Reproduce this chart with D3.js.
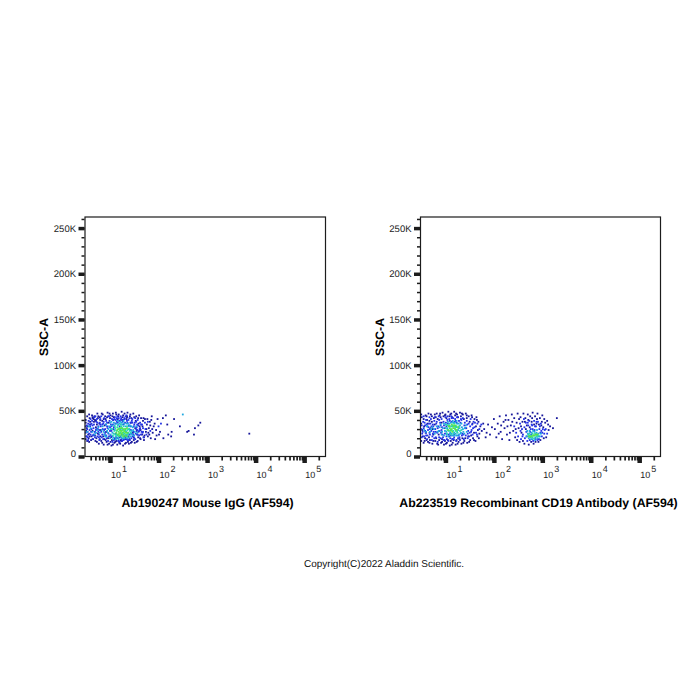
<!DOCTYPE html>
<html>
<head>
<meta charset="utf-8">
<script src="https://cdnjs.cloudflare.com/ajax/libs/d3/7.8.5/d3.min.js"></script>
<style>
html,body{margin:0;padding:0;background:#fff}
text{font-family:"Liberation Sans",Arial,sans-serif;text-rendering:geometricPrecision}
</style>
</head>
<body>
<svg id="chart" width="700" height="700"></svg>
<script>
// Events are [log10(AF594-A), SSC-A in thousands], grouped by local density tier.
const densityColors = ["#16169a", "#2333e6", "#1fa8e0", "#28d6b0", "#58e64a"];
const panelTitles = ["Ab190247 Mouse IgG (AF594)", "Ab223519 Recombinant CD19 Antibody (AF594)"];
const sscTicks = [0, 50, 100, 150, 200, 250];
const sscTickLabels = ["0", "50K", "100K", "150K", "200K", "250K"];
const decades = [1, 2, 3, 4, 5];
const copyrightText = "Copyright(C)2022 Aladdin Scientific.";

const igGNavy = [[0.52,31],[0.55,24],[0.5,37],[0.58,42],[0.61,18],[0.63,45],[0.69,40],[0.72,20],[0.74,47],[0.77,14],[0.79,43],[0.82,17],[0.85,46],[0.87,13],[0.9,44],[0.93,16],[0.95,48],[0.98,14],[1.01,45],[1.03,12],[1.06,47],[1.09,15],[1.12,48],[1.15,13],[1.18,46],[1.21,14],[1.24,49],[1.27,12],[1.3,47],[1.33,15],[1.36,48],[1.39,14],[1.42,46],[1.45,16],[1.48,47],[1.51,15],[1.54,44],[1.57,17],[1.6,45],[1.62,20],[1.64,42],[1.66,24],[1.68,39],[1.7,18],[1.72,41],[1.74,27],[1.76,35],[1.78,22],[1.8,31],[1.82,38],[1.84,20],[1.86,44],[1.88,26],[1.9,33],[1.93,19],[1.95,29],[1.98,41],[2.01,24],
[2.03,27],[2.09,42],[2.15,45],[2.32,41],[2.18,35],[2.27,27],[2.2,24],[2.26,22],[2.1,20],[2.44,33],[2.59,27],[2.62,28],[2.75,31],[2.73,24],[2.82,34],[2.86,37],[3.87,25],
[0.53,44],[0.56,20],[0.6,35],[0.64,28],[0.67,38],[0.71,32],[0.75,25],[0.78,36],[0.8,22],[0.84,39],[0.88,19],[0.91,41],[0.96,20],[1.0,42],[1.04,18],[1.08,43],[1.13,17],[1.17,44],[1.22,18],[1.26,43],[1.31,19],[1.35,44],[1.4,19],[1.44,42],[1.49,21],[1.53,39],[1.56,24],[1.59,36],[1.63,29],[1.67,33],[1.71,23],[1.75,30],[1.79,26],[1.83,34],[0.51,28],[0.54,33],[0.57,16],[0.62,22],[0.65,42],[0.7,17],[0.73,35],[0.76,44],[0.81,29],[0.86,22],[0.89,34],[0.92,27],[0.97,37],[1.02,21],[1.07,40],[1.11,19],[1.16,41],[1.2,21],[1.25,40],[1.29,22],[1.34,41],[1.38,22],[1.43,37],[1.47,26],[1.52,31],[1.55,28],[1.58,21],[1.61,33],
[0.57,46],[0.68,44],[0.83,47],[0.94,43],[1.05,44],[1.13,46],[1.27,45],[1.35,43],[1.41,44],[1.5,43],[1.58,42],[0.99,47],[0.75,42],[0.64,43],[0.5,40],[0.59,38],[0.66,41],[0.71,39],[0.8,40],[0.87,41],[1.69,42],[1.77,41],[1.85,40],[0.5,19],[0.53,17],[0.58,22],[0.65,19],[0.69,23],[0.73,16],[0.79,19],[0.84,15],[0.91,18],[0.95,13],[1.01,16],[1.06,13],[1.11,16],[1.19,15],[1.24,17],[1.31,14],[1.37,16],[1.43,15],[1.49,18],[1.55,16],[1.63,19],[1.7,21],[1.81,24],[1.87,30],[1.92,36],[1.96,23]];
const igGBlue = [[0.5,26],[0.52,34],[0.54,21],[0.56,39],[0.58,29],[0.6,24],[0.62,36],[0.64,19],[0.66,31],[0.68,43],[0.7,26],[0.72,38],[0.74,22],[0.76,33],[0.78,18],[0.8,41],[0.82,27],[0.84,35],[0.86,19],[0.88,42],[0.9,30],[0.92,23],[0.94,37],[0.96,17],[0.98,44],[1.0,28],[1.02,35],[1.04,22],[1.06,40],[1.08,18],[1.1,43],[1.12,25],[1.14,38],[1.16,20],[1.18,42],[1.2,16],[1.22,44],[1.24,24],[1.26,38],[1.28,18],[1.3,42],[1.32,21],[1.34,45],[1.36,18],[1.38,40],[1.4,24],[1.42,37],[1.44,20],[1.46,41],[1.48,27],[1.5,35],[1.52,19],[1.54,38],[1.56,29],[1.58,34],[1.6,23],[1.62,37],[1.65,27],[1.68,31],[1.72,37],[0.51,22],[0.53,30],[0.55,36],[0.57,25],[0.59,33],[0.61,27],[0.63,39],[0.65,23],[0.67,35],[0.69,21],[0.71,29],[0.73,41],[0.75,30],[0.77,24],[0.79,37],[0.81,33],[0.83,21],[0.85,30],[0.87,38],[0.89,24],[0.91,35],[0.93,20],[0.95,31],[0.97,25],[0.99,39],[1.01,23],[1.03,33],[1.05,16],[1.07,30],[1.09,41],[1.11,36],[1.13,21],[1.15,44],[1.17,17],[1.19,39],[1.21,22],[1.23,42],[1.25,17],[1.27,40],[1.29,19],[1.31,37],[1.33,23],[1.35,39],[1.37,26],[1.39,34],[1.41,18],[1.43,29],[1.45,39],[1.47,22],[1.49,33],[1.51,37],[1.53,25],[1.55,32],[1.57,40],[1.59,27],[1.61,30],[1.64,35],[1.67,26],[2.0,33],[2.05,36],
[0.5,33],[0.54,27],[0.62,30],[0.55,18],[0.6,41],[0.69,27],[0.74,37],[0.66,24],[0.78,29],[0.84,24],[0.72,30],[0.8,35],[0.9,26],[0.86,36],[0.94,33],[0.77,21],[1.0,32],[0.92,39],[1.04,41],[0.98,22],[1.06,35],[1.1,20],[1.03,28],[1.16,37],[1.08,32],[1.22,40],[1.14,42],[1.28,35],[1.2,33],[1.36,37],[1.3,41],[1.42,33],[1.34,19],[1.48,24],[1.4,42],[1.54,30],[1.46,37],[1.6,28],[1.52,42],[1.66,35],[1.57,24],[1.73,30],[1.63,24],[1.78,38],[1.69,21],[1.83,28],[0.58,35],[0.64,34],[0.7,44],[0.76,27],[0.82,44],[0.88,29],[0.52,22],[0.96,44],[1.12,40],[1.18,17],[1.24,19],[1.32,44],[1.38,18],[1.44,25],[1.5,20],[1.56,35],[1.62,31],[1.68,27],[1.75,24]];
const igGCyan = [[0.53,27],[0.6,31],[0.68,24],[0.74,29],[0.79,26],[0.85,33],[0.9,22],[0.94,28],[0.98,33],[1.0,20],[1.03,38],[1.05,26],[1.07,21],[1.09,34],[1.1,29],[1.12,19],[1.13,36],[1.15,23],[1.16,39],[1.18,19],[1.2,36],[1.22,30],[1.23,21],[1.25,35],[1.27,24],[1.28,39],[1.3,20],[1.32,33],[1.33,27],[1.35,22],[1.37,36],[1.39,21],[1.4,30],[1.42,25],[1.44,33],[1.46,24],[1.48,29],[1.5,23],[2.5,46],
[0.56,33],[0.71,26],[0.83,29],[0.88,24],[0.92,35],[0.96,26],[1.02,30],[1.0,37],[1.06,19],[1.08,37],[1.11,24],[1.14,20],[1.17,35],[1.19,22],[1.21,38],[1.24,37],[1.26,20],[1.29,36],[1.31,23],[1.34,36],[1.36,20],[1.38,33],[1.41,34],[1.43,22],[1.45,28],[1.47,32],[1.51,27],[1.54,33],[1.56,26],[0.97,30],[0.93,22],[1.01,24],[1.04,34],[0.87,27],[0.76,32],[0.64,27]];
const igGTeal = [[1.04,30],[1.08,25],[1.1,33],[1.12,22],[1.14,28],[1.16,34],[1.17,24],[1.19,31],[1.21,26],[1.23,33],[1.24,23],[1.26,29],[1.28,33],[1.3,25],[1.31,30],[1.34,24],[1.36,29],[1.38,26],[1.41,28],
[1.06,23],[1.09,28],[1.11,31],[1.13,24],[1.15,32],[1.18,22],[1.2,29],[1.22,35],[1.25,31],[1.27,26],[1.29,21],[1.32,28],[1.35,33],[1.37,24],[1.39,30],[1.43,26]];
const igGGreen = [[1.13,26],[1.15,29],[1.18,27],[1.2,23],[1.22,28],[1.24,31],[1.25,26],[1.27,22],[1.29,28],[1.31,23],[1.33,26],[1.35,31],[1.16,24],[1.19,25],[1.21,31],[1.23,25],[1.26,24],[1.28,30],[1.3,27],[1.32,30],[1.34,22],[1.36,26],[1.17,30],[1.24,28]];

const cd19Navy = [[0.52,29],[0.5,36],[0.55,41],[0.58,20],[0.61,44],[0.64,16],[0.67,39],[0.7,46],[0.73,14],[0.76,42],[0.79,17],[0.82,47],[0.85,13],[0.88,45],[0.91,15],[0.94,48],[0.97,13],[1.0,46],[1.03,15],[1.06,49],[1.09,12],[1.12,47],[1.15,15],[1.18,49],[1.21,13],[1.24,46],[1.27,16],[1.3,48],[1.33,14],[1.36,46],[1.39,17],[1.42,47],[1.45,15],[1.48,44],[1.51,18],[1.54,45],[1.57,20],[1.6,41],[1.62,17],[1.64,43],[1.66,22],[1.68,38],[1.7,25],[1.72,33],[1.75,28],[1.78,36],[1.85,26],[1.88,35],[1.92,24],[1.96,32],
[2.0,41],[2.02,30],[2.05,21],[2.08,36],[2.12,44],[2.14,27],[2.17,19],[2.2,38],[2.22,31],[2.25,45],[2.27,24],[2.3,40],[2.32,18],[2.35,34],[2.37,46],[2.4,28],[2.42,42],[2.44,21],[2.47,37],[2.49,47],[2.51,31],[2.53,16],[2.55,43],[2.57,26],[2.59,38],[2.61,47],[2.63,14],[2.65,42],[2.68,34],[2.7,46],[2.72,13],[2.75,44],[2.78,38],[2.8,48],[2.82,14],[2.85,44],[2.88,36],[2.9,47],[2.92,16],[2.95,42],[2.98,34],[3.0,45],[3.03,20],[3.06,37],[3.1,39],[3.13,29],[3.16,33],[3.22,31],[3.3,42],
[0.53,22],[0.56,33],[0.6,26],[0.63,36],[0.66,21],[0.69,31],[0.72,38],[0.75,24],[0.78,35],[0.81,20],[0.84,41],[0.87,18],[0.9,43],[0.93,19],[0.96,44],[0.99,17],[1.02,42],[1.05,18],[1.08,44],[1.11,17],[1.14,43],[1.17,18],[1.2,45],[1.23,18],[1.26,43],[1.29,19],[1.32,44],[1.35,20],[1.38,41],[1.41,20],[1.44,42],[1.47,22],[1.5,38],[1.53,23],[1.56,36],[1.59,26],[1.63,33],[1.67,29],[0.51,43],[0.57,17],[0.62,40],[0.68,18],[0.74,30],[0.8,43],[0.86,24],[0.92,37],
[0.5,46],[0.59,45],[0.65,47],[0.72,44],[0.78,46],[0.89,47],[0.99,45],[1.1,46],[1.22,47],[1.34,47],[1.44,45],[1.55,43],[1.65,40],[0.5,17],[0.55,15],[0.61,18],[0.67,15],[0.75,17],[0.83,14],[0.93,16],[1.01,14],[1.13,13],[1.25,14],[1.37,15],[1.49,16],[1.59,18],[1.69,20],[1.8,30],[1.83,21],[2.1,25],[2.15,34],[2.24,40],[2.28,33],[2.33,26],[2.38,38],[2.45,30],[2.48,18],[2.52,41],[2.56,33],[2.6,17],[2.64,38],[2.66,30],[2.71,40],[2.74,32],[2.77,16],[2.79,42],[2.83,35],[2.86,16],[2.89,41],[2.93,35],[2.96,18],[2.99,38],[3.02,32],[3.04,41],[3.08,21],[3.12,35]];
const cd19Blue = [[0.5,30],[0.52,25],[0.54,38],[0.56,22],[0.58,34],[0.6,40],[0.62,19],[0.64,29],[0.66,36],[0.68,24],[0.7,41],[0.72,18],[0.74,35],[0.76,27],[0.78,43],[0.8,21],[0.82,38],[0.84,16],[0.86,44],[0.88,28],[0.9,20],[0.92,41],[0.94,24],[0.96,38],[0.98,18],[1.0,43],[1.02,22],[1.04,40],[1.06,17],[1.08,41],[1.1,20],[1.12,44],[1.14,19],[1.16,42],[1.18,21],[1.2,41],[1.22,17],[1.24,43],[1.26,20],[1.28,39],[1.3,18],[1.32,41],[1.34,23],[1.36,42],[1.38,19],[1.4,37],[1.42,23],[1.44,39],[1.46,20],[1.48,36],[1.5,26],[1.52,41],[1.54,29],[1.56,24],[1.58,38],[1.6,32],[1.63,26],[1.66,36],[0.51,34],[0.53,27],[0.55,31],[0.57,37],[0.59,26],[0.61,35],[0.63,23],[0.65,32],[0.67,26],[0.69,36],[0.71,28],[0.73,22],[0.75,33],[0.77,20],[0.79,30],[0.81,36],[0.83,26],[0.85,33],[0.87,21],[0.89,37],[0.91,26],[0.93,32],[0.95,21],[0.97,34],[0.99,25],[1.01,37],[1.03,19],[1.05,36],[1.07,24],[1.09,39],[1.11,23],[1.13,38],[1.15,19],[1.19,38],[1.23,37],[1.27,23],[1.31,37],[1.35,25],[1.39,34],[1.43,31],[1.47,28],[1.51,33],[1.55,35],
[2.42,33],[2.46,26],[2.5,22],[2.54,36],[2.56,19],[2.58,30],[2.6,24],[2.62,41],[2.64,20],[2.66,37],[2.67,27],[2.69,17],[2.71,34],[2.73,39],[2.74,18],[2.76,30],[2.77,24],[2.79,34],[2.81,17],[2.83,39],[2.84,29],[2.86,19],[2.87,33],[2.89,24],[2.91,38],[2.93,19],[2.94,30],[2.96,26],[2.97,36],[2.99,22],[3.01,30],[3.04,25],[3.07,30],[3.1,25],
[0.51,21],[0.6,23],[0.55,44],[0.67,43],[0.63,33],[0.71,33],[0.74,25],[0.8,27],[0.77,39],[0.84,31],[0.87,40],[0.92,29],[0.96,18],[0.99,31],[1.04,44],[1.02,33],[1.08,22],[1.13,42],[1.17,19],[1.21,39],[1.25,43],[1.29,21],[1.33,40],[1.37,24],[1.41,31],[1.45,35],[1.49,22],[1.53,27],[1.57,31],[1.61,37],[1.65,24],[1.7,30],[1.74,35],[0.58,28],[0.68,30],[0.9,34],[1.18,24],[1.46,25],
[2.55,28],[2.59,22],[2.63,32],[2.68,22],[2.7,37],[2.75,27],[2.8,30],[2.85,33],[2.9,18],[2.95,33],[3.0,26],[3.05,29],[2.78,35],[2.88,38],[2.98,28]];
const cd19Cyan = [[0.56,29],[0.62,33],[0.68,27],[0.73,32],[0.78,25],[0.82,33],[0.86,28],[0.9,35],[0.93,27],[0.95,31],[0.97,23],[1.0,35],[1.02,27],[1.04,31],[1.06,22],[1.08,36],[1.1,26],[1.12,33],[1.14,23],[1.16,37],[1.18,26],[1.2,33],[1.22,23],[1.24,36],[1.26,29],[1.28,24],[1.3,34],[1.32,26],[1.34,32],[1.37,27],[1.4,31],[1.44,27],[2.67,22],[2.7,25],[2.72,20],[2.74,28],[2.76,21],[2.78,26],[2.8,19],[2.82,23],[2.84,27],[2.86,21],[2.88,26],[2.9,20],[2.92,25],[2.95,22],
[0.6,27],[0.7,30],[0.76,30],[0.84,27],[0.88,32],[0.92,24],[0.97,36],[0.99,28],[1.03,24],[1.05,38],[1.09,25],[1.11,37],[1.13,25],[1.15,39],[1.17,23],[1.19,37],[1.21,25],[1.23,39],[1.25,23],[1.27,36],[1.29,31],[1.31,25],[1.33,36],[1.36,30],[1.39,25],[1.42,34],[2.69,28],[2.73,23],[2.77,19],[2.81,28],[2.85,18],[2.89,29],[2.93,22],[2.97,25]];
const cd19Teal = [[1.01,31],[1.03,25],[1.05,34],[1.07,28],[1.09,31],[1.11,24],[1.13,29],[1.15,34],[1.17,25],[1.19,31],[1.21,28],[1.23,33],[1.25,26],[1.27,31],[1.3,28],[2.71,24],[2.74,21],[2.77,23],[2.8,25],[2.83,20],[2.86,24],[2.89,22],
[1.02,35],[1.04,29],[1.08,34],[1.1,28],[1.14,33],[1.16,28],[1.18,36],[1.22,32],[1.24,27],[1.28,33],[1.33,29],[2.73,25],[2.79,21],[2.85,25],[2.91,23]];
const cd19Green = [[1.06,29],[1.09,33],[1.12,30],[1.14,27],[1.16,31],[1.18,34],[1.2,30],[1.23,29],[1.07,33],[1.11,29],[1.13,35],[1.17,33],[1.21,34],[1.26,32],[2.75,22],[2.78,22],[2.81,23],[2.84,23],[2.87,24],[2.72,22],[2.9,24]];

const panels = [
  { title: panelTitles[0], titleX: 207.5, tiers: [igGNavy, igGBlue, igGCyan, igGTeal, igGGreen], xRange: [85, 325.5] },
  { title: panelTitles[1], titleX: 538.5, tiers: [cd19Navy, cd19Blue, cd19Cyan, cd19Teal, cd19Green], xRange: [420.5, 660.5] }
];

const svg = d3.select("#chart");
const ink = "#1c1c1c";
const yScale = d3.scaleLinear().domain([0, 262.144]).range([456.5, 217]);

function drawPanel(p) {
  const xScale = d3.scaleLog().domain([10 ** 0.485, 10 ** 5.44]).range(p.xRange);
  const g = svg.append("g");

  // Density-coloured events, densest tier painted last.
  p.tiers.forEach((tier, i) => {
    g.append("g").selectAll("rect").data(tier).join("rect")
      .attr("x", d => xScale(10 ** d[0]) - 0.9)
      .attr("y", d => yScale(d[1]) - 0.9)
      .attr("width", 1.8).attr("height", 1.8)
      .attr("fill", densityColors[i]);
  });

  g.append("rect")
    .attr("x", p.xRange[0]).attr("y", 217)
    .attr("width", p.xRange[1] - p.xRange[0]).attr("height", 239.5)
    .attr("fill", "none").attr("stroke", ink).attr("stroke-width", 1.2);

  // Minor and major log ticks along the bottom.
  const minorX = [];
  [0, 1, 2, 3, 4, 5].forEach(e => [2, 3, 4, 5, 6, 7, 8, 9].forEach(m => {
    const v = m * 10 ** e;
    if (v > xScale.domain()[0] && v < xScale.domain()[1]) minorX.push(v);
  }));
  const xMinor = g.append("g").attr("transform", "translate(0,457)")
    .call(d3.axisBottom(xScale).tickValues(minorX).tickSize(3.5).tickFormat(""));
  const xMajor = g.append("g").attr("transform", "translate(0,457)")
    .call(d3.axisBottom(xScale).tickValues(decades.map(e => 10 ** e)).tickSize(6).tickFormat(""));
  [xMinor, xMajor].forEach(a => a.select(".domain").remove());
  xMinor.selectAll("line").attr("stroke", ink).attr("stroke-width", 1.7);
  xMajor.selectAll("line").attr("stroke", ink).attr("stroke-width", 4.5);

  // Decade labels with raised exponents.
  const labels = g.append("g").selectAll("text").data(decades).join("text")
    .attr("x", e => xScale(10 ** e) + 1).attr("y", 477.5)
    .attr("font-size", 9).attr("fill", "#222");
  labels.append("tspan").text("10");
  labels.append("tspan").attr("dx", 1).attr("dy", -6).text(e => e);

  // SSC axis: ticks every 10K, heavier every 50K.
  const yMinor = g.append("g").attr("transform", `translate(${p.xRange[0] - 0.5},0)`)
    .call(d3.axisLeft(yScale).tickValues(d3.range(0, 261, 10)).tickSize(3).tickFormat(""));
  const yMajor = g.append("g").attr("transform", `translate(${p.xRange[0] - 0.5},0)`)
    .call(d3.axisLeft(yScale).tickValues(sscTicks).tickSize(6).tickPadding(2.5)
      .tickFormat((d, i) => sscTickLabels[i]));
  [yMinor, yMajor].forEach(a => a.select(".domain").remove());
  yMinor.selectAll("line").attr("stroke", ink).attr("stroke-width", 1.5);
  yMajor.selectAll("line").attr("stroke", ink).attr("stroke-width", 3.5);
  yMajor.selectAll("text").attr("font-size", 9.5).attr("fill", "#222")
    .attr("font-family", '"Liberation Sans",Arial,sans-serif')
    .attr("dy", d => d === 0 ? "0.02em" : "0.32em");

  g.append("text").attr("transform", `translate(${p.xRange[0] - 37},337) rotate(-90)`)
    .attr("text-anchor", "middle").attr("font-size", 12.2).attr("font-weight", 700).text("SSC-A");
  g.append("text").attr("x", p.titleX).attr("y", 507)
    .attr("text-anchor", "middle").attr("font-size", 12.3).attr("font-weight", 700).text(p.title);
}

panels.forEach(drawPanel);

svg.append("text").attr("x", 384).attr("y", 567).attr("text-anchor", "middle")
  .attr("font-size", 10).attr("fill", "#111").text(copyrightText);
</script>
</body>
</html>
